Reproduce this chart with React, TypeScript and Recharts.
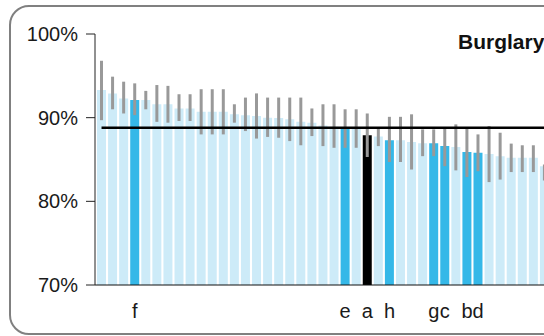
import React from 'react'
import { Bar, Cell, ComposedChart, ErrorBar, ReferenceLine, XAxis, YAxis } from 'recharts'

// bar order, left to right (rest of the forces are unlabeled)
const labels = ['', '', '', 'f', '', '', '', '', '', '', '', '', '', '', '', '', '', '', '', '', '', '', 'e', '', 'a', '', 'h', '', '', '', 'g', 'c', '', 'b', 'd', '', '', '', '', '', '']
const values = [93.3, 92.9, 92.3, 92.1, 92.1, 91.6, 91.6, 91.1, 91.1, 90.7, 90.7, 90.7, 90.4, 90.3, 90.2, 90.0, 89.95, 89.8, 89.5, 89.4, 89.05, 88.9, 88.7, 88.7, 87.9, 87.75, 87.3, 87.3, 87.1, 86.95, 86.95, 86.6, 86.5, 85.9, 85.8, 85.65, 85.4, 85.2, 85.2, 85.2, 84.2]
const upper = [96.8, 94.9, 94.3, 94.1, 93.2, 93.9, 93.8, 92.8, 92.8, 93.4, 93.4, 93.4, 91.6, 92.4, 92.9, 92.4, 92.4, 92.4, 92.4, 91.1, 91.6, 91.6, 91.0, 91.0, 90.5, 88.75, 90.1, 90.1, 90.4, 88.6, 88.6, 88.8, 89.2, 88.8, 88.0, 89.0, 88.2, 86.9, 86.7, 86.7, 84.4]
const lower = [89.7, 91.0, 90.5, 90.3, 91.0, 89.5, 89.4, 89.6, 89.6, 88.0, 88.0, 88.0, 89.4, 88.4, 87.5, 87.7, 87.6, 87.2, 86.7, 87.8, 86.6, 86.4, 86.4, 86.4, 85.3, 86.6, 84.7, 84.7, 83.8, 85.4, 85.4, 84.2, 83.7, 82.9, 83.6, 82.3, 82.6, 83.5, 83.5, 83.5, 82.5]
const average = 88.8
const yTicks = [70, 80, 90, 100]

const data = values.map((v, i) => ({
  idx: i,
  value: v,
  err: [v - lower[i], upper[i] - v],
}))

const barColor = (i: number) => {
  if (labels[i] === 'a') return '#000000'
  if (labels[i] !== '') return '#35b8e8'
  return '#cdebf8'
}

const font = 'Arial, "Liberation Sans", Helvetica, sans-serif'

export default function App() {
  return (
    <div style={{ position: 'fixed', left: 0, top: 0, width: 544, height: 336, overflow: 'hidden', background: '#fff' }}>
      <div
        style={{
          position: 'absolute',
          left: 9,
          top: 5,
          width: 620,
          height: 326,
          border: '2px solid #808080',
          borderRadius: 20,
        }}
      />
      <div style={{ position: 'absolute', left: 0, top: 0 }}>
        <ComposedChart
          width={560}
          height={336}
          data={data}
          margin={{ top: 34, right: 10, bottom: 0, left: 0 }}
          barCategoryGap={0}
        >
          <XAxis
            dataKey='idx'
            interval={0}
            tickLine={false}
            tickSize={0}
            tickMargin={19}
            height={51}
            padding={{ left: 1, right: 0 }}
            stroke='#111'
            tickFormatter={(i: number) => labels[i]}
            tick={{ fill: '#1a1a1a', fontSize: 20, fontFamily: font }}
          />
          <YAxis
            domain={[70, 100]}
            ticks={yTicks}
            width={95}
            tickSize={9}
            tickMargin={8}
            stroke='#222'
            tickFormatter={(v: number) => `${v}%`}
            tick={{ fill: '#1a1a1a', fontSize: 20, fontFamily: font }}
          />
          <Bar dataKey='value' barSize={9} isAnimationActive={false}>
            {data.map((d, i) => (
              <Cell key={i} fill={barColor(i)} />
            ))}
            <ErrorBar dataKey='err' width={0} stroke='#999' strokeWidth={3} />
          </Bar>
          <ReferenceLine
            segment={[{ x: 0, y: average }, { x: values.length - 1, y: average }]}
            stroke='#000'
            strokeWidth={2.5}
          />
        </ComposedChart>
      </div>
      <div
        style={{
          position: 'absolute',
          left: 458,
          top: 32,
          fontFamily: font,
          fontWeight: 'bold',
          fontSize: 21,
          lineHeight: '20px',
          color: '#111',
          whiteSpace: 'nowrap',
        }}
      >
        Burglary
      </div>
    </div>
  )
}
